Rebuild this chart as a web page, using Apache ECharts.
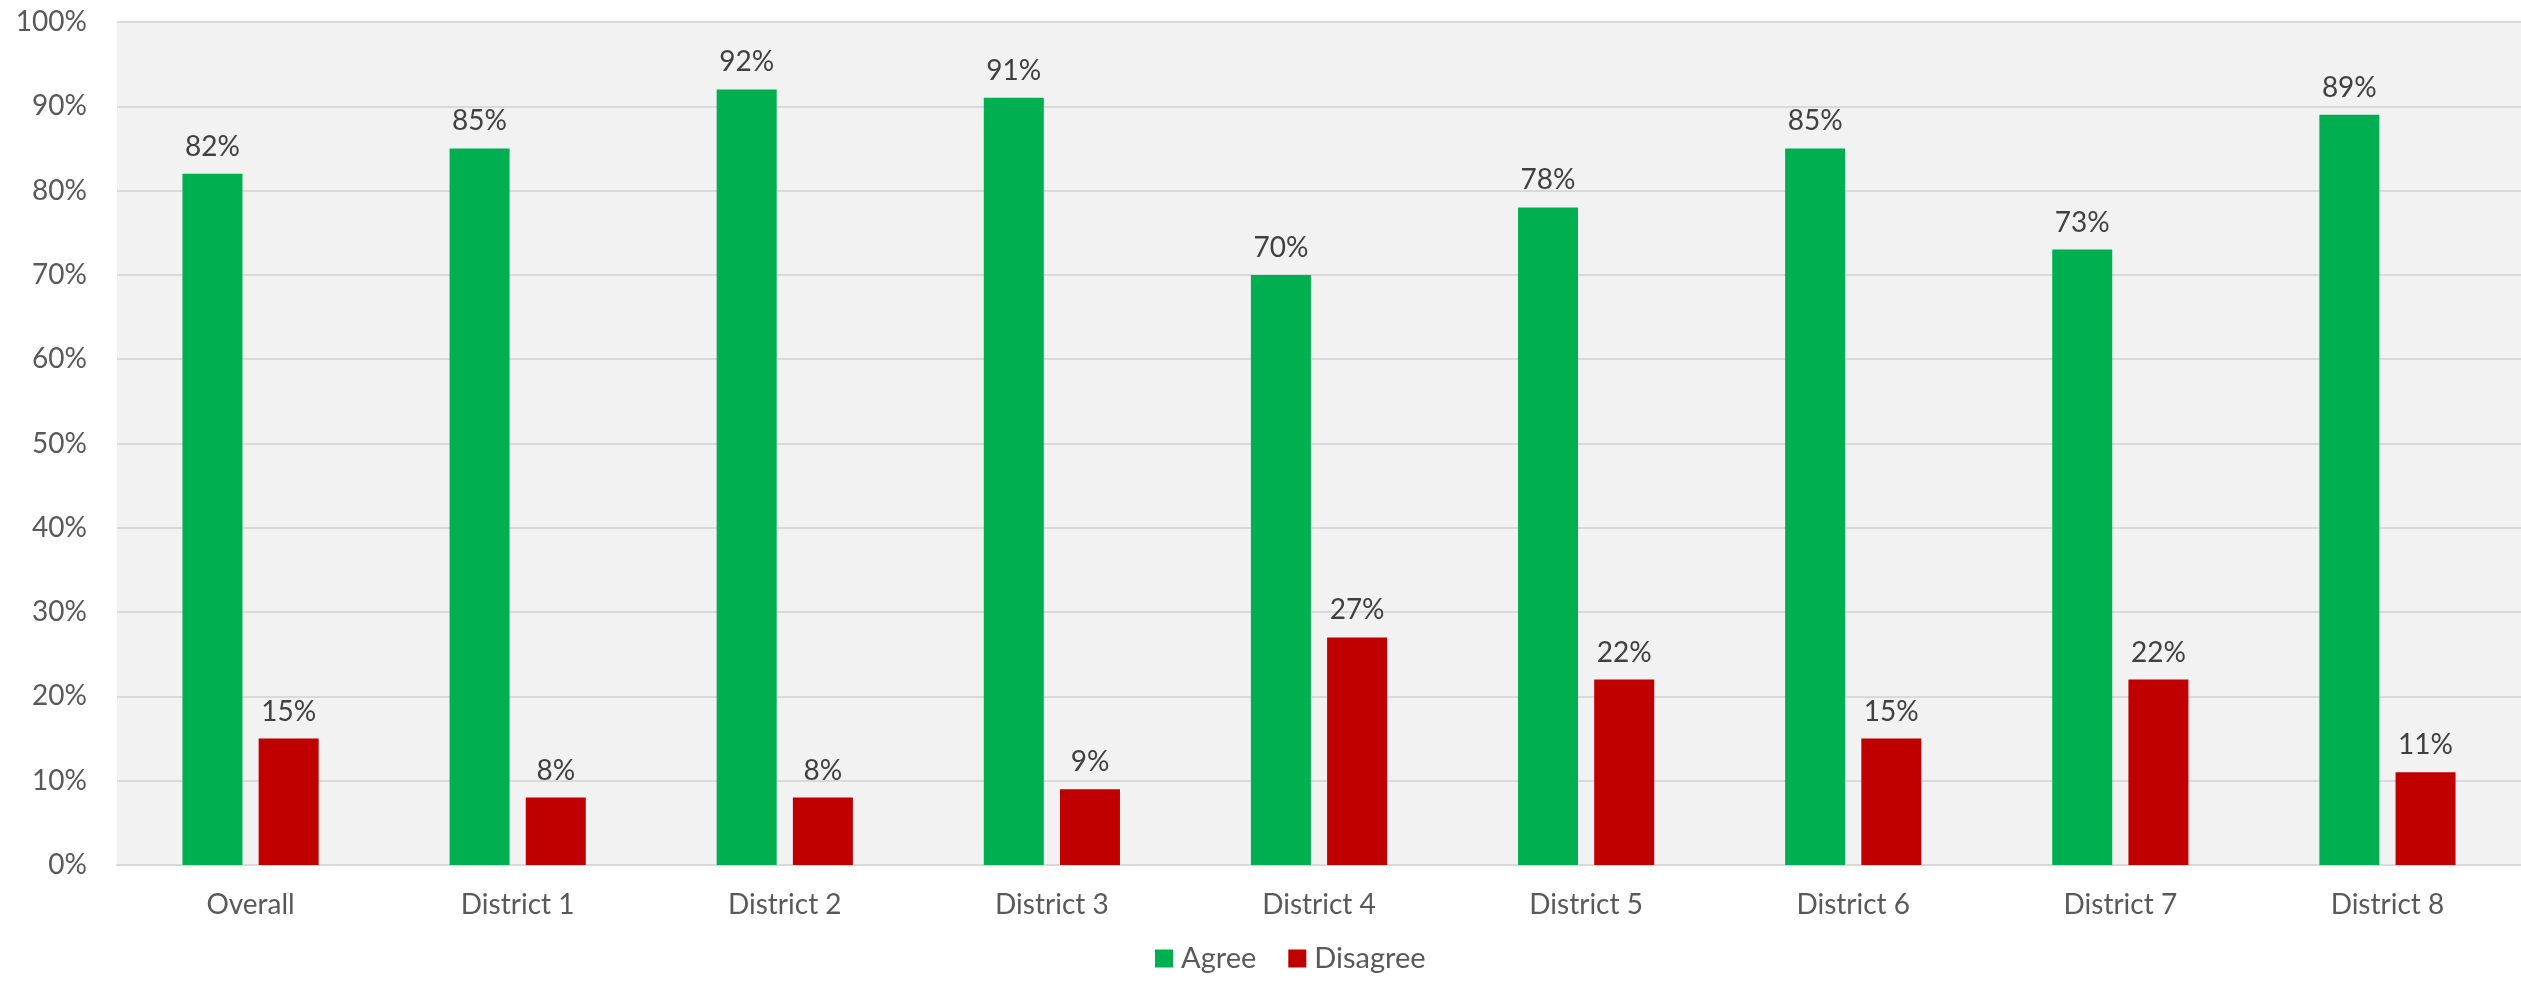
<!DOCTYPE html>
<html>
<head>
<meta charset="utf-8">
<script src="https://cdn.jsdelivr.net/npm/echarts@6/dist/echarts.min.js"></script>
<style>
  html, body { margin: 0; padding: 0; background: #ffffff; }
  #main { width: 2521px; height: 984px; }
</style>
</head>
<body>
<div id="main"></div>
<script>
// 数据
var categories = ["Overall", "District 1", "District 2", "District 3", "District 4", "District 5", "District 6", "District 7", "District 8"]
var agree = [82, 85, 92, 91, 70, 78, 85, 73, 89]
var disagree = [15, 8, 8, 9, 27, 22, 15, 22, 11]

var chartDom = document.getElementById("main")
var myChart = echarts.init(chartDom)
var fontName = "Lato"

var option = {
  animation: false,
  textStyle: { fontFamily: fontName },
  legend: {
    bottom: 6,
    left: 1150,
    itemWidth: 18,
    itemHeight: 18,
    itemGap: 32,
    icon: "rect",
    textStyle: { fontSize: 29, color: "#595959", fontFamily: fontName, padding: [0, 0, 0, 3] },
    data: ["Agree", "Disagree"]
  },
  grid: {
    left: 117,
    right: 0,
    top: 22,
    bottom: 119,
    show: true,
    backgroundColor: "#f2f2f2",
    borderWidth: 0
  },
  xAxis: {
    type: "category",
    data: categories,
    axisTick: { show: false },
    axisLine: { lineStyle: { color: "#d9d9d9", width: 2 } },
    axisLabel: { fontSize: 28, color: "#595959", margin: 26, fontFamily: fontName }
  },
  yAxis: {
    type: "value",
    min: 0,
    max: 100,
    interval: 10,
    axisLine: { show: false },
    axisTick: { show: false },
    splitLine: { lineStyle: { color: "#d9d9d9", width: 2 } },
    axisLabel: { fontSize: 28, color: "#595959", margin: 30, formatter: "{value}%", fontFamily: fontName }
  },
  series: [
    {
      name: "Agree",
      type: "bar",
      data: agree,
      barWidth: 60,
      barGap: "27%",
      itemStyle: { color: "#00b050" },
      label: { show: true, position: "top", distance: 13, formatter: "{c}%", fontSize: 28, color: "#404040", fontFamily: fontName }
    },
    {
      name: "Disagree",
      type: "bar",
      data: disagree,
      barWidth: 60,
      itemStyle: { color: "#c00000" },
      label: { show: true, position: "top", distance: 13, formatter: "{c}%", fontSize: 28, color: "#404040", fontFamily: fontName }
    }
  ]
}

option && myChart.setOption(option)
</script>
</body>
</html>
